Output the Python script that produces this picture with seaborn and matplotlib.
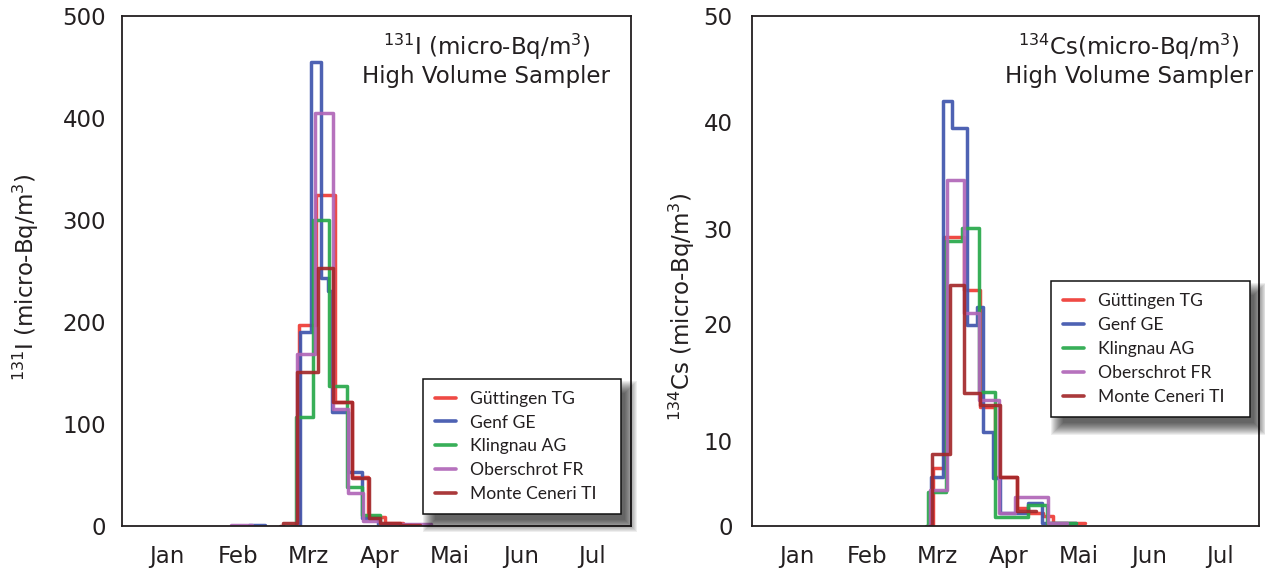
import numpy as np
import pandas as pd
import matplotlib
matplotlib.use("Agg")
import matplotlib.pyplot as plt
import seaborn as sns
from matplotlib.patches import Rectangle
from matplotlib.transforms import IdentityTransform

# ---------------- data ----------------
stations = ["Güttingen TG", "Genf GE", "Klingnau AG", "Oberschrot FR", "Monte Ceneri TI"]
station_colors = ["#ee3a34", "#3f55ad", "#27a84a", "#b066b8", "#a3282a"]
month_labels = ["Jan", "Feb", "Mrz", "Apr", "Mai", "Jun", "Jul"]
month_pos = [0, 1, 2, 3, 4, 5, 6]  # month index (Jan = 0)

# I-131 : step edges (in months since Jan) and values per interval
i131_guettingen_edges = [1.80, 1.867, 2.103, 2.372, 2.608, 2.843, 3.079, 3.334, 3.45]
i131_guettingen_vals = [0, 197, 325, 122, 48, 9, 3, 1]
i131_genf_edges = [1.80, 1.877, 2.028, 2.170, 2.277, 2.325, 2.560, 2.750, 2.980, 3.15]
i131_genf_vals = [0, 190, 455, 243, 230, 112, 53, 8, 2]
i131_genf_feb_edges = [1.15, 1.38]
i131_genf_feb_vals = [1]
i131_klingnau_edges = [1.75, 1.820, 2.057, 2.291, 2.546, 2.750, 3.008, 3.103]
i131_klingnau_vals = [0, 107, 300, 137, 38.5, 11, 2]
i131_oberschrot_edges = [1.80, 1.839, 2.089, 2.339, 2.560, 2.772, 3.008, 3.73]
i131_oberschrot_vals = [0, 169, 405, 115, 32, 5, 2]
i131_oberschrot_feb_edges = [0.90, 1.20]
i131_oberschrot_feb_vals = [1]
i131_ceneri_edges = [1.60, 1.636, 1.835, 2.132, 2.348, 2.612, 2.853, 3.008, 3.291, 3.574]
i131_ceneri_vals = [0, 3, 151, 253, 122, 47, 8, 3, 1]

# Cs-134
cs134_guettingen_edges = [1.90, 1.939, 2.089, 2.370, 2.606, 2.817, 3.123, 3.286, 3.497, 3.638, 4.085]
cs134_guettingen_vals = [0, 6.8, 29.2, 23.5, 12.9, 5.8, 2.1, 1.5, 1.2, 0.4]
cs134_genf_edges = [1.90, 1.911, 2.075, 2.207, 2.418, 2.559, 2.644, 2.785, 2.887, 3.286, 3.475, 3.968]
cs134_genf_vals = [0, 5.8, 42.0, 39.4, 19.9, 21.8, 10.8, 5.6, 1.5, 2.7, 0.3]
cs134_klingnau_edges = [1.83, 1.863, 2.113, 2.348, 2.582, 2.817, 3.286, 3.545, 3.968]
cs134_klingnau_vals = [0, 4.0, 28.7, 30.1, 14.2, 1.1, 2.5, 0.3]
cs134_oberschrot_edges = [1.86, 1.892, 2.127, 2.370, 2.582, 2.863, 3.099, 3.568, 3.827]
cs134_oberschrot_vals = [0, 4.2, 34.6, 21.1, 13.5, 1.5, 3.4, 0.3]
cs134_ceneri_edges = [1.89, 1.925, 2.173, 2.370, 2.606, 2.887, 3.123, 3.40]
cs134_ceneri_vals = [0, 8.5, 24.1, 14.1, 13.1, 5.8, 1.8]

# Cs-134 axis: tick values and their (non-uniform) spacing on the printed axis
cs_tick_vals = [0, 10, 20, 30, 40, 50]
cs_tick_scale = [0, 85, 202.5, 297, 404, 510]
i131_ticks = [0, 100, 200, 300, 400, 500]


def build_frame(series):
    rows = []
    for seg_id, (station, edges, vals) in enumerate(series):
        ys = list(vals) + [vals[-1]]
        for x, y in zip(edges, ys):
            rows.append({"station": station, "seg": seg_id, "x": x, "y": y})
    return pd.DataFrame(rows)


i131_df = build_frame([
    (stations[0], i131_guettingen_edges, i131_guettingen_vals),
    (stations[1], i131_genf_edges, i131_genf_vals),
    (stations[1], i131_genf_feb_edges, i131_genf_feb_vals),
    (stations[2], i131_klingnau_edges, i131_klingnau_vals),
    (stations[3], i131_oberschrot_edges, i131_oberschrot_vals),
    (stations[3], i131_oberschrot_feb_edges, i131_oberschrot_feb_vals),
    (stations[4], i131_ceneri_edges, i131_ceneri_vals),
])
cs_df = build_frame([
    (stations[0], cs134_guettingen_edges, cs134_guettingen_vals),
    (stations[1], cs134_genf_edges, cs134_genf_vals),
    (stations[2], cs134_klingnau_edges, cs134_klingnau_vals),
    (stations[3], cs134_oberschrot_edges, cs134_oberschrot_vals),
    (stations[4], cs134_ceneri_edges, cs134_ceneri_vals),
])

# ---------------- style ----------------
sns.set_theme(style="white")
plt.rcParams["font.family"] = ["DejaVu Sans"]
plt.rcParams["mathtext.default"] = "regular"
ink = "#231f20"

fig = plt.figure(figsize=(12.65, 5.72), dpi=100)
ax1 = fig.add_axes([0.0967, 0.0804, 0.4019, 0.8916])
ax2 = fig.add_axes([0.5942, 0.0804, 0.4010, 0.8916])

palette = dict(zip(stations, station_colors))

for ax, df in [(ax1, i131_df), (ax2, cs_df)]:
    if ax is ax2:
        ax.set_yscale("function", functions=(
            lambda v: np.interp(v, cs_tick_vals, cs_tick_scale),
            lambda p: np.interp(p, cs_tick_scale, cs_tick_vals)))
    sns.lineplot(data=df, x="x", y="y", hue="station", hue_order=stations,
                 units="seg", estimator=None, sort=False, palette=palette,
                 drawstyle="steps-post", linewidth=2.5, alpha=0.92, ax=ax)

for ax in (ax1, ax2):
    ax.set_xlim(-0.636, 6.554)
    ax.set_xticks(month_pos)
    ax.set_xticklabels(month_labels)
    ax.set_xlabel("")
    for s in ax.spines.values():
        s.set_color(ink)
        s.set_linewidth(1.3)
        s.set_visible(True)
    ax.tick_params(axis="both", direction="out", length=8.6, width=1.0,
                   colors=ink, labelsize=16.5, labelcolor=ink)
    ax.tick_params(axis="x", pad=5)
    ax.tick_params(axis="y", pad=3)
    ax.set_facecolor("white")

ax1.set_ylim(0, 500)
ax1.set_yticks(i131_ticks)
ax2.set_ylim(0, 50)
ax2.set_yticks(cs_tick_vals)
ax2.set_yticklabels([str(v) for v in cs_tick_vals])
ax2.yaxis.set_minor_locator(matplotlib.ticker.NullLocator())
ax2.tick_params(axis="y", pad=5)

ax1.set_ylabel(r"$^{131}$I (micro-Bq/m$^{3}$)", fontsize=16.5, color=ink)
ax1.yaxis.set_label_coords(-0.159, 0.487)
ax2.set_ylabel(r"$^{134}$Cs (micro-Bq/m$^{3}$)", fontsize=16.5, color=ink)
ax2.yaxis.set_label_coords(-0.108, 0.43)

ax1.text(0.716, 0.939, r"$^{131}$I (micro-Bq/m$^{3}$)", transform=ax1.transAxes,
         ha="center", va="center", fontsize=16.5, color=ink)
ax1.text(0.716, 0.882, "High Volume Sampler", transform=ax1.transAxes,
         ha="center", va="center", fontsize=16.5, color=ink)
ax2.text(0.744, 0.939, r"$^{134}$Cs(micro-Bq/m$^{3}$)", transform=ax2.transAxes,
         ha="center", va="center", fontsize=16.5, color=ink)
ax2.text(0.744, 0.882, "High Volume Sampler", transform=ax2.transAxes,
         ha="center", va="center", fontsize=16.5, color=ink)

legends = []
for ax, anchor in [(ax1, (0.591, 0.0235, 0.3895, 0.26)), (ax2, (0.590, 0.2143, 0.392, 0.26))]:
    old = ax.get_legend()
    handles = old.legend_handles
    labels = [t.get_text() for t in old.get_texts()]
    old.remove()
    for h in handles:
        h.set_linewidth(2.6)
        h.set_alpha(0.92)
    leg = ax.legend(handles, labels, loc="lower left", bbox_to_anchor=anchor,
                    mode="expand", borderaxespad=0, frameon=True, fancybox=False,
                    framealpha=1, edgecolor="#111111",
                    prop={"family": "Lato", "size": 12.6},
                    handlelength=1.2, handletextpad=0.8, labelspacing=0.45,
                    borderpad=0.68)
    leg.get_frame().set_linewidth(1.1)
    for t in leg.get_texts():
        t.set_color(ink)
    legends.append((ax, leg))

# soft drop shadow behind the legend boxes
fig.canvas.draw()
for ax, leg in legends:
    bb = leg.get_window_extent()
    dx, dy = 8, -10
    for e in range(-4, 9):
        r = Rectangle((bb.x0 + dx - e, bb.y0 + dy - e), bb.width + 2 * e, bb.height + 2 * e,
                      transform=IdentityTransform(), facecolor="#000000",
                      edgecolor="none", alpha=0.065, zorder=4.9, clip_on=False)
        ax.add_patch(r)

fig.savefig("out.png", dpi=100, facecolor="white")
